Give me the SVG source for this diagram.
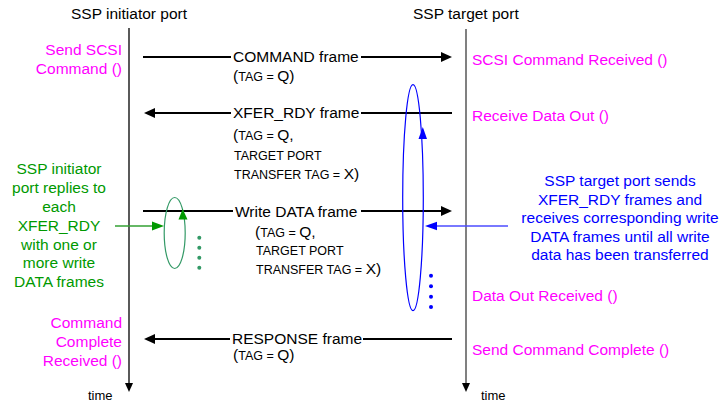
<svg xmlns="http://www.w3.org/2000/svg" width="722" height="404" viewBox="0 0 722 404">
<style>
text{font-family:"Liberation Sans",Arial,Helvetica,sans-serif;font-size:15.5px}
.hdr{fill:#000}
.mag{fill:#ff00ff}
.lbl{fill:#000}
.sm{font-size:12.5px}
.time{font-size:13px;fill:#000}
.grn{fill:#009900}
.blu{fill:#0000ff}
.msg{stroke:#000;stroke-width:2;fill:none}
.head{fill:#000}
</style>
<rect width="722" height="404" fill="#fff"/>

<g id="initiator-lifeline">
<text class="hdr" x="71" y="19">SSP initiator port</text>
<line x1="129" y1="28" x2="129" y2="384" stroke="#000" stroke-width="1.3"/>
<polygon class="head" points="125,383 133,383 129,392"/>
<text class="time" x="88" y="400">time</text>
</g>

<g id="target-lifeline">
<text class="hdr" x="413" y="19">SSP target port</text>
<line x1="466" y1="29" x2="466" y2="384" stroke="#808080" stroke-width="2"/>
<polygon class="head" points="462,383 470,383 466,392"/>
<text class="time" x="481" y="400">time</text>
</g>

<g id="initiator-labels">
<text class="mag" text-anchor="end" x="122" y="54.5">Send SCSI</text>
<text class="mag" text-anchor="end" x="122" y="74">Command ()</text>
<text class="mag" text-anchor="end" x="122" y="328">Command</text>
<text class="mag" text-anchor="end" x="122" y="347">Complete</text>
<text class="mag" text-anchor="end" x="122" y="366">Received ()</text>
</g>

<g id="target-labels">
<text class="mag" x="472" y="65">SCSI Command Received ()</text>
<text class="mag" x="472" y="121">Receive Data Out ()</text>
<text class="mag" x="472" y="301">Data Out Received ()</text>
<text class="mag" x="472" y="354.5">Send Command Complete ()</text>
</g>

<g id="connectors">
<!-- COMMAND frame -->
<line class="msg" x1="143" y1="57" x2="231" y2="57"/>
<line class="msg" x1="361" y1="57" x2="442" y2="57"/>
<polygon class="head" points="441,52 452,57 441,62"/>
<!-- XFER_RDY frame -->
<line class="msg" x1="154" y1="113" x2="231" y2="113"/>
<line class="msg" x1="361" y1="113" x2="452" y2="113"/>
<polygon class="head" points="155,108 144,113 155,118"/>
<!-- Write DATA frame -->
<line class="msg" x1="143" y1="211" x2="233" y2="211"/>
<line class="msg" x1="361" y1="211" x2="442" y2="211"/>
<polygon class="head" points="441,206 452,211 441,216"/>
<!-- RESPONSE frame -->
<line class="msg" x1="154" y1="339" x2="230" y2="339"/>
<line class="msg" x1="363" y1="339" x2="452" y2="339"/>
<polygon class="head" points="155,334 144,339 155,344"/>
</g>

<g id="message-labels">
<text class="lbl" x="233" y="61.5">COMMAND frame</text>
<text class="lbl" x="233" y="81">(<tspan class="sm">TAG = </tspan>Q)</text>

<text class="lbl" x="233" y="117.5">XFER_RDY frame</text>
<text class="lbl" x="233" y="139.5">(<tspan class="sm">TAG = </tspan>Q,</text>
<text class="lbl sm" x="234" y="160">TARGET PORT</text>
<text class="lbl" x="234" y="178.5"><tspan class="sm">TRANSFER TAG = </tspan>X)</text>

<text class="lbl" x="235" y="216.5">Write DATA frame</text>
<text class="lbl" x="255" y="237">(<tspan class="sm">TAG = </tspan>Q,</text>
<text class="lbl sm" x="256" y="255">TARGET PORT</text>
<text class="lbl" x="256" y="273.5"><tspan class="sm">TRANSFER TAG = </tspan>X)</text>

<text class="lbl" x="232" y="344">RESPONSE frame</text>
<text class="lbl" x="233" y="360">(<tspan class="sm">TAG = </tspan>Q)</text>
</g>

<g id="initiator-loop">
<ellipse cx="174.7" cy="233" rx="10.5" ry="35.5" fill="none" stroke="#339966" stroke-width="1.2"/>
<polygon points="182.7,209 178.5,219.5 187.5,219.5" fill="#009900"/>
<line x1="115" y1="226" x2="153" y2="226" stroke="#33a033" stroke-width="1.5"/>
<polygon points="152,221.5 164,226 152,230.5" fill="#009900"/>
<circle cx="199.3" cy="237.7" r="2" fill="#339966"/>
<circle cx="199.3" cy="247.7" r="2" fill="#339966"/>
<circle cx="199.3" cy="257.7" r="2" fill="#339966"/>
<circle cx="199.3" cy="267.7" r="2" fill="#339966"/>
<g class="grn" text-anchor="middle">
<text x="59" y="174">SSP initiator</text>
<text x="59" y="193">port replies to</text>
<text x="59" y="211.5">each</text>
<text x="59" y="230.5">XFER_RDY</text>
<text x="59" y="249.5">with one or</text>
<text x="59" y="268">more write</text>
<text x="59" y="287">DATA frames</text>
</g>
</g>

<g id="target-loop">
<ellipse cx="413" cy="197.7" rx="10.3" ry="113" fill="none" stroke="#0000ff" stroke-width="1.2"/>
<polygon points="422.8,127 418.5,139 427,139" fill="#0000ff"/>
<line x1="508" y1="226" x2="436" y2="226" stroke="#4d4dff" stroke-width="1.5"/>
<polygon points="437,221.8 425,226 437,230.2" fill="#0000ff"/>
<circle cx="431" cy="275.7" r="2" fill="#0000ff"/>
<circle cx="431" cy="286.2" r="2" fill="#0000ff"/>
<circle cx="431" cy="296.7" r="2" fill="#0000ff"/>
<circle cx="431" cy="307" r="2" fill="#0000ff"/>
<g class="blu" text-anchor="middle">
<text x="620" y="186">SSP target port sends</text>
<text x="620" y="204.5">XFER_RDY frames and</text>
<text x="620" y="223">receives corresponding write</text>
<text x="620" y="241.5">DATA frames until all write</text>
<text x="620" y="260">data has been transferred</text>
</g>
</g>
</svg>
